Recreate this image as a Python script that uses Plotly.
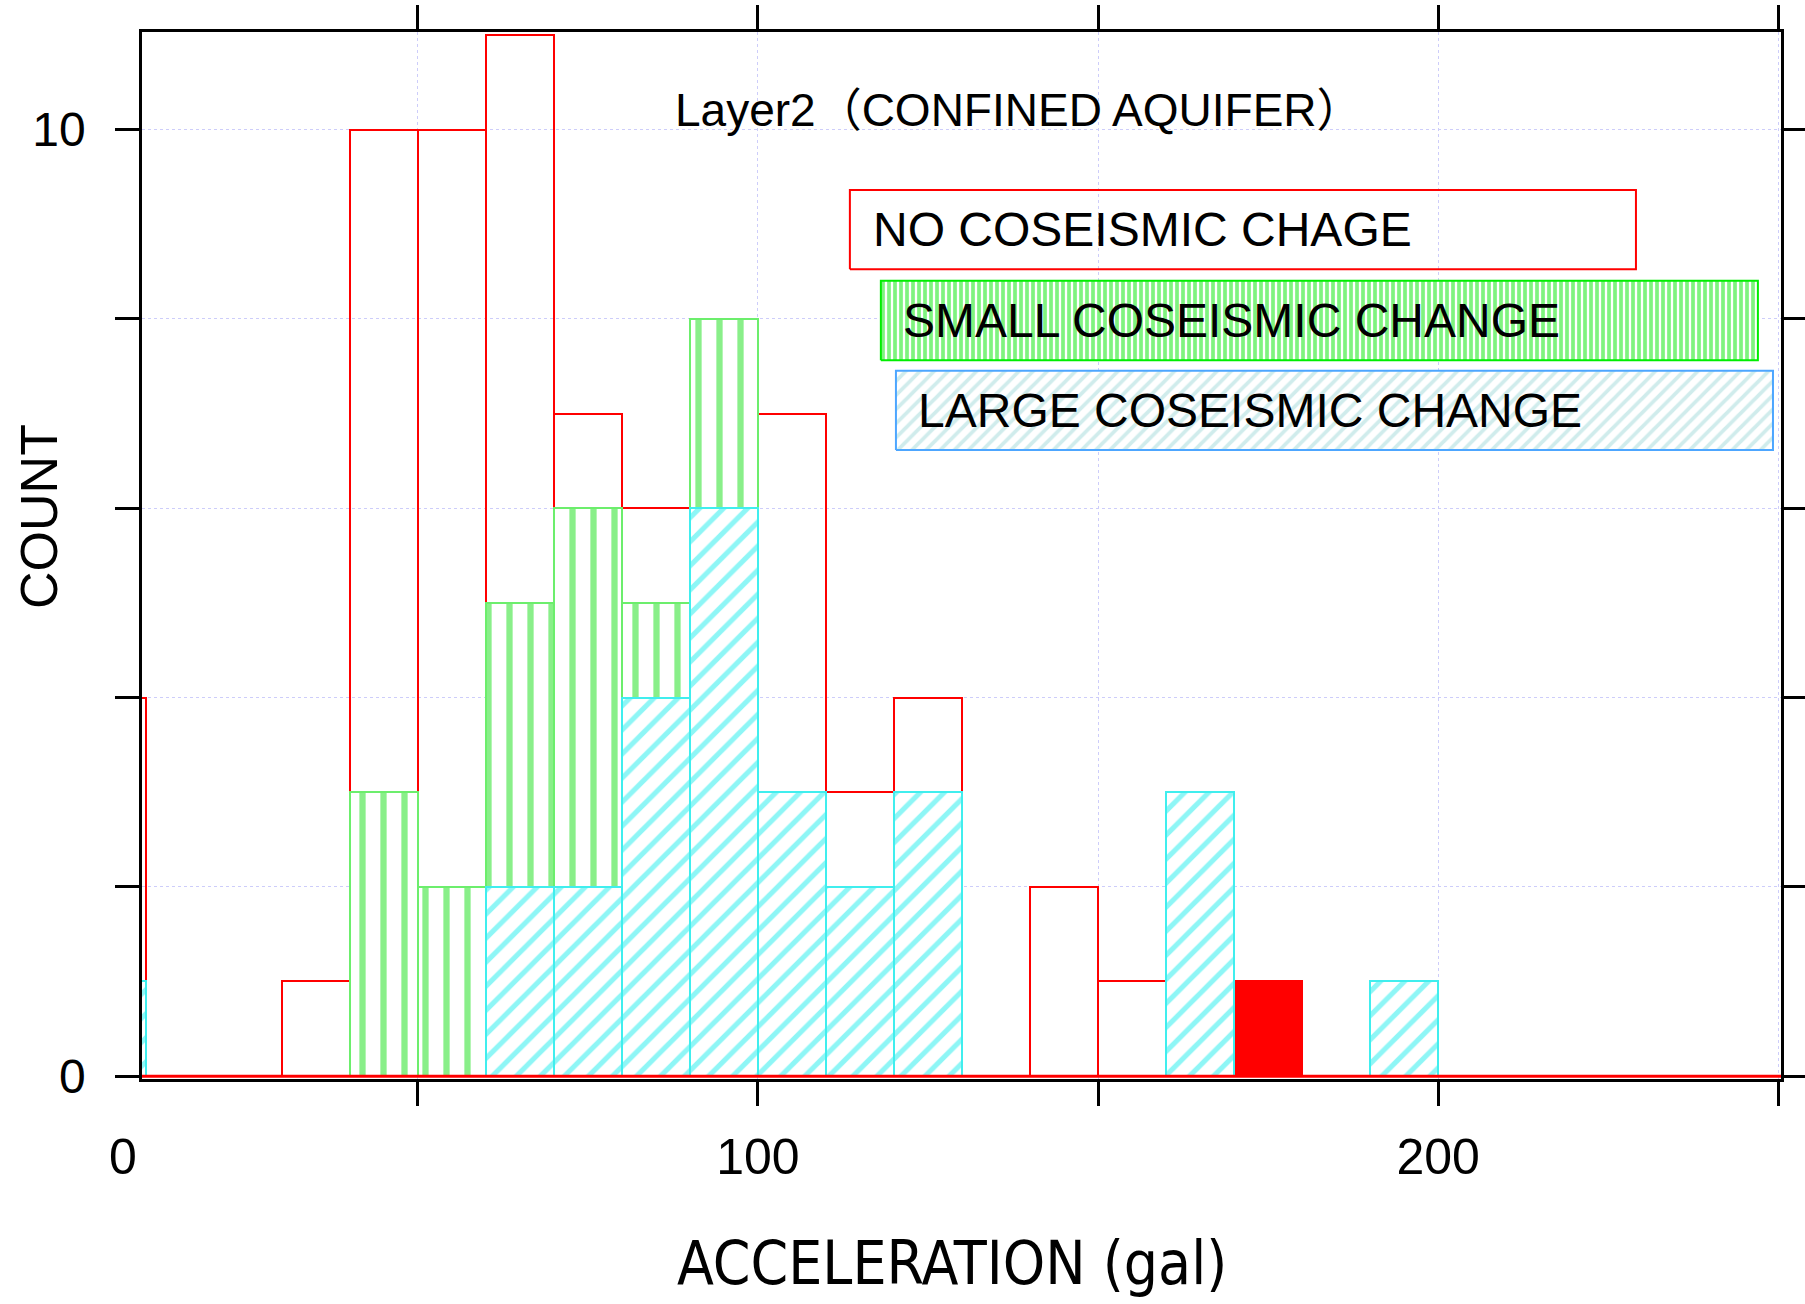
import plotly.graph_objects as go

# ---- data (histogram bins of width 10 gal) ----
bin_left = list(range(0, 250, 10))
no_change = [4, 0, 0, 1, 10, 10, 11, 7, 6, 8, 7, 3, 4, 0, 2, 1, 3, 1, 0, 1, 0, 0, 0, 0, 0]
small_change = [0, 0, 0, 0, 3, 2, 5, 6, 5, 8, 0, 0, 0, 0, 0, 0, 0, 0, 0, 0, 0, 0, 0, 0, 0]
large_change = [1, 0, 0, 0, 0, 0, 2, 2, 4, 6, 3, 2, 3, 0, 0, 0, 3, 0, 0, 1, 0, 0, 0, 0, 0]
highlight_bin = 170          # the bin drawn solid red
x_ticks = [50, 100, 150, 200, 250]
x_ticktext = ["", "100", "", "200", ""]
y_ticks = [0, 2, 4, 6, 8, 10]
y_ticktext = ["0", "", "", "", "", "10"]
legend_labels = ["NO COSEISMIC CHAGE", "SMALL COSEISMIC CHANGE", "LARGE COSEISMIC CHANGE"]
title_text = "Layer2（CONFINED AQUIFER）"

BIN_W = 10
centers = [b + BIN_W / 2 for b in bin_left]

RED = "#ff0000"
GREEN_FG = "#14e014"
GREEN_LINE = "#6cee6c"
CYAN_FG = "#1eeeee"
CYAN_LINE = "#40eeee"

FONT = "Liberation Sans, Arial, Noto Sans CJK JP, sans-serif"

fig = go.Figure()

red_fill = ["#ff0000" if b == highlight_bin else "rgba(255,255,255,0)" for b in bin_left]
fig.add_trace(go.Bar(
    x=centers, y=no_change, width=BIN_W,
    marker=dict(color=red_fill, line=dict(color=RED, width=2)),
    name=legend_labels[0], showlegend=False,
))
fig.add_trace(go.Bar(
    x=centers, y=small_change, width=BIN_W,
    marker=dict(color="white", line=dict(color=GREEN_LINE, width=2),
                pattern=dict(shape="|", fgcolor=GREEN_FG, bgcolor="white",
                             size=21, solidity=0.3, fillmode="overlay")),
    name=legend_labels[1], showlegend=False,
))
fig.add_trace(go.Bar(
    x=centers, y=large_change, width=BIN_W,
    marker=dict(color="white", line=dict(color=CYAN_LINE, width=2),
                pattern=dict(shape="/", fgcolor=CYAN_FG, bgcolor="white",
                             size=17, solidity=0.3, fillmode="overlay")),
    name=legend_labels[2], showlegend=False,
))

# ---- legend boxes drawn on an overlay [0,1] axis pair ----
boxes = [
    dict(x0=0.4319, x1=0.9115, y0=0.7733, y1=0.8491, line="#ff0000", fill=None,
         tx=0.4450),
    dict(x0=0.4508, x1=0.9859, y0=0.6864, y1=0.7623, line="#00ee00",
         fill=dict(shape="|", fgcolor="#00e800", bgcolor="white", size=6, solidity=0.62),
         tx=0.4633),
    dict(x0=0.4600, x1=0.9951, y0=0.6008, y1=0.6765, line="#4da6ff",
         fill=dict(shape="/", fgcolor="#a2dada", bgcolor="white", size=10, solidity=0.38),
         tx=0.4724),
]
for bx, lab in zip(boxes, legend_labels):
    kw = dict(
        x=[bx["x0"], bx["x1"], bx["x1"], bx["x0"], bx["x0"]],
        y=[bx["y0"], bx["y0"], bx["y1"], bx["y1"], bx["y0"]],
        mode="lines", line=dict(color=bx["line"], width=2),
        xaxis="x2", yaxis="y2", showlegend=False, hoverinfo="skip",
    )
    if bx["fill"] is not None:
        kw["fill"] = "toself"
        kw["fillcolor"] = "white"
        kw["fillpattern"] = bx["fill"]
    fig.add_trace(go.Scatter(**kw))
    fig.add_annotation(xref="paper", yref="paper", x=bx["tx"], y=(bx["y0"] + bx["y1"]) / 2,
                       text=lab, showarrow=False, xanchor="left", yanchor="middle",
                       font=dict(family=FONT, size=48, color="black"))

# red baseline along y=0
fig.add_shape(type="line", xref="x domain", yref="y", x0=0, x1=1, y0=0, y1=0,
              line=dict(color=RED, width=3), layer="above")

# title inside plot
fig.add_annotation(xref="paper", yref="paper", x=0.3242, y=0.9255, text=title_text,
                   showarrow=False, xanchor="left", yanchor="middle",
                   font=dict(family=FONT, size=46, color="black"))
# axis titles
fig.add_annotation(xref="paper", yref="paper", x=0.4944, y=-0.1758,
                   text="ACCELERATION (gal)", showarrow=False,
                   xanchor="center", yanchor="middle",
                   font=dict(family="Liberation Sans Narrow, DejaVu Sans Condensed, Arial Narrow, sans-serif",
                             size=60, color="black"))
fig.add_annotation(xref="paper", yref="paper", x=-0.0632, y=0.5372, text="COUNT",
                   showarrow=False, textangle=-90, xanchor="center", yanchor="middle",
                   font=dict(family=FONT, size=52, color="black"))
# "0" label at the left end of the x axis
fig.add_annotation(xref="paper", yref="paper", x=-0.0113, y=-0.0745, text="0",
                   showarrow=False, xanchor="center", yanchor="middle",
                   font=dict(family=FONT, size=50, color="black"))

axis_common = dict(showline=True, linecolor="black", linewidth=2.5, mirror="allticks",
                   ticks="outside", ticklen=24, tickwidth=2.5, tickcolor="black",
                   showgrid=True, gridcolor="#cdcdfa", griddash="dot", gridwidth=1.3,
                   zeroline=False, automargin=False)

fig.update_layout(
    width=1805, height=1304,
    margin=dict(l=142, r=24, t=32, b=225, autoexpand=False),
    paper_bgcolor="white", plot_bgcolor="white",
    barmode="overlay", bargap=0,
    showlegend=False,
    xaxis=dict(range=[9.45, 250.4], tickmode="array", tickvals=x_ticks, ticktext=x_ticktext,
               tickfont=dict(family=FONT, size=50, color="black"), ticklabelstandoff=8,
               **axis_common),
    yaxis=dict(range=[-0.03, 11.03], tickmode="array", tickvals=y_ticks, ticktext=y_ticktext,
               tickfont=dict(family=FONT, size=48, color="black"), ticklabelstandoff=20,
               **axis_common),
    xaxis2=dict(range=[0, 1], overlaying="x", visible=False, fixedrange=True),
    yaxis2=dict(range=[0, 1], overlaying="y", visible=False, fixedrange=True),
)

fig.write_html("out.html", config={"displayModeBar": False},
               post_script="document.body.style.margin='0';")
